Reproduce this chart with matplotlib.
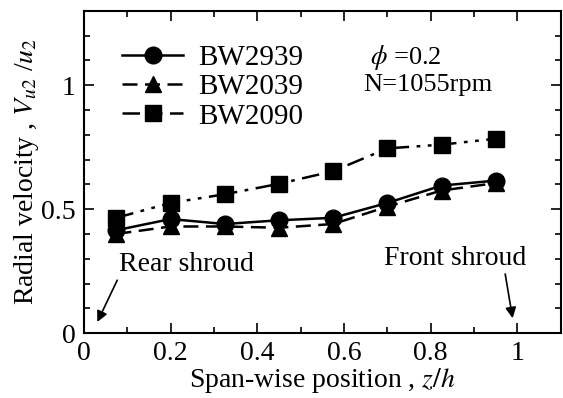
import matplotlib
matplotlib.use("Agg")
import matplotlib.pyplot as plt
from matplotlib.ticker import MultipleLocator

plt.rcParams["font.family"] = ["Liberation Serif", "DejaVu Serif"]
plt.rcParams["mathtext.fontset"] = "stix"

z = [0.075, 0.2, 0.325, 0.45, 0.575, 0.7, 0.825, 0.95]
bw2939 = [0.415, 0.46, 0.44, 0.455, 0.465, 0.525, 0.595, 0.615]
bw2039 = [0.40, 0.43, 0.43, 0.425, 0.44, 0.51, 0.575, 0.605]
bw2090 = [0.465, 0.525, 0.56, 0.602, 0.653, 0.745, 0.76, 0.784]

fig = plt.figure(figsize=(5.63, 3.98), dpi=100)
ax = fig.add_axes([0.149, 0.163, 0.847, 0.81])

ax.plot(z, bw2939, color="black", lw=1.8, linestyle="-", marker="o", ms=12, label="BW2939")
ax.plot(z, bw2039, color="black", lw=1.8, linestyle=(0, (6, 3)), marker="^", ms=12, label="BW2039")
ax.plot(z, bw2090, color="black", lw=1.8, linestyle=(0, (7, 3, 1.5, 3, 1.5, 3)), marker="s", ms=12, label="BW2090")

ax.set_xlim(0, 1.1)
ax.set_ylim(0, 1.3)
ax.set_xticks([0, 0.2, 0.4, 0.6, 0.8, 1])
ax.set_xticklabels(["0", "0.2", "0.4", "0.6", "0.8", "1"])
ax.set_yticks([0, 0.5, 1])
ax.set_yticklabels(["0", "0.5", "1"])
ax.xaxis.set_minor_locator(MultipleLocator(0.1))
ax.yaxis.set_minor_locator(MultipleLocator(0.1))
ax.tick_params(which="both", direction="in", top=True, right=True, labelsize=20, width=1.2)
ax.tick_params(which="major", length=7)
ax.tick_params(axis="x", which="major", pad=6)
ax.tick_params(axis="y", which="major", pad=6)
ax.tick_params(which="minor", length=4)
for s in ax.spines.values():
    s.set_linewidth(1.5)

ax.set_xlabel("Span-wise position , $z/h$", fontsize=20, labelpad=0)
ax.set_ylabel("Radial velocity , $V_{u2}$ /$u_2$", fontsize=20, labelpad=0)

ax.legend(loc="upper left", bbox_to_anchor=(0.08, 0.895), frameon=False, fontsize=21,
          handlelength=2.1, handletextpad=0.5, labelspacing=0.1, borderaxespad=0, borderpad=0)

ax.text(0.66, 1.113, r"$\phi$ =0.2", fontsize=19, va="center")
ax.text(0.645, 1.0, "N=1055rpm", fontsize=19, va="center")

ax.annotate("Rear shroud", xy=(0.031, 0.045), xytext=(0.08, 0.275), fontsize=20,
            va="center", ha="left",
            arrowprops=dict(arrowstyle="-|>", color="black", lw=1.2, shrinkA=0, shrinkB=0,
                            mutation_scale=16, relpos=(0, 0)))
ax.annotate("Front shroud", xy=(0.989, 0.06), xytext=(1.02, 0.30), fontsize=20,
            va="center", ha="right",
            arrowprops=dict(arrowstyle="-|>", color="black", lw=1.2, shrinkA=0, shrinkB=0,
                            mutation_scale=16, relpos=(0.85, 0)))

fig.savefig("out.png", dpi=100)
